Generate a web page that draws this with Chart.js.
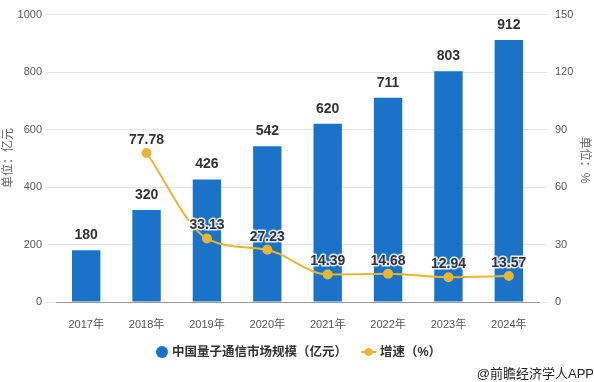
<!DOCTYPE html>
<html><head><meta charset="utf-8">
<script src="https://cdn.jsdelivr.net/npm/chart.js@4.4.0/dist/chart.umd.min.js"></script>
<style>html,body{margin:0;padding:0;background:#fff}#w{width:594px;height:382px}</style>
</head><body><div id="w"><canvas id="c" width="594" height="382"></canvas></div>
<script>
const categories = ['2017年','2018年','2019年','2020年','2021年','2022年','2023年','2024年'];
const marketSize = [180,320,426,542,620,711,803,912];
const growthRate = [null,77.78,33.13,27.23,14.39,14.68,12.94,13.57];
const leftTicks = [0,200,400,600,800,1000];
const rightTicks = [0,30,60,90,120,150];
const barName = '中国量子通信市场规模（亿元）';
const lineName = '增速（%）';
const leftTitle = '单位：亿元';
const rightTitle = '单位：%';
const credit = '@前瞻经济学人APP';

const BLUE = '#1a73c6', GOLD = '#e8b634';
const FONT = '"Liberation Sans", "Noto Sans CJK SC", sans-serif';

const overlay = {
  id: 'overlay',
  afterDatasetsDraw(chart) {
    const ctx = chart.ctx;
    ctx.save();
    ctx.textAlign = 'center';
    ctx.textBaseline = 'middle';
    ctx.lineJoin = 'round';
    ctx.font = 'bold 14px ' + FONT;
    chart.getDatasetMeta(0).data.forEach((el, i) => {
      ctx.fillStyle = '#333';
      ctx.fillText(String(marketSize[i]), el.x, el.y - 15);
    });
    chart.getDatasetMeta(1).data.forEach((el, i) => {
      if (growthRate[i] == null) return;
      ctx.lineWidth = 3; ctx.strokeStyle = 'rgba(255,255,255,0.85)';
      ctx.strokeText(growthRate[i].toFixed(2), el.x, el.y - 13);
      ctx.fillStyle = '#333';
      ctx.fillText(growthRate[i].toFixed(2), el.x, el.y - 13);
    });
    // axis titles
    ctx.font = '12px ' + FONT;
    ctx.fillStyle = '#666';
    ctx.save(); ctx.translate(9, 158); ctx.rotate(-Math.PI/2); ctx.fillText(leftTitle, 0, 0); ctx.restore();
    ctx.save(); ctx.translate(584, 160); ctx.rotate(Math.PI/2); ctx.fillText(rightTitle, 0, 0); ctx.restore();
    // legend
    ctx.textAlign = 'left';
    ctx.font = 'bold 12.5px ' + FONT;
    ctx.fillStyle = BLUE;
    ctx.beginPath(); ctx.arc(162, 352, 6, 0, Math.PI*2); ctx.fill();
    ctx.fillStyle = '#333';
    ctx.fillText(barName, 172, 353);
    ctx.strokeStyle = GOLD; ctx.lineWidth = 2;
    ctx.beginPath(); ctx.moveTo(361, 352); ctx.lineTo(376, 352); ctx.stroke();
    ctx.fillStyle = GOLD;
    ctx.beginPath(); ctx.arc(368.5, 352, 4, 0, Math.PI*2); ctx.fill();
    ctx.fillStyle = '#333';
    ctx.fillText(lineName, 380, 353);
    ctx.font = '13px ' + FONT;
    ctx.textAlign = 'right';
    ctx.fillStyle = '#222';
    ctx.fillText(credit, 594, 374);
    ctx.restore();
  }
};

new Chart(document.getElementById('c'), {
  data: {
    labels: categories,
    datasets: [
      { type: 'bar', label: barName, data: marketSize, backgroundColor: BLUE, yAxisID: 'y', order: 2,
        barPercentage: 0.47, categoryPercentage: 1.0 },
      { type: 'line', label: lineName, data: growthRate, yAxisID: 'y1', order: 1,
        borderColor: GOLD, borderWidth: 2, tension: 0.4, cubicInterpolationMode: 'monotone',
        pointRadius: 4, pointBackgroundColor: GOLD, pointBorderColor: GOLD, spanGaps: false }
    ]
  },
  options: {
    responsive: false, animation: false, devicePixelRatio: 1,
    layout: { padding: { top: 13, left: 0, right: 0, bottom: 0 } },
    plugins: { legend: { display: false }, tooltip: { enabled: false } },
    scales: {
      x: {
        grid: { display: false },
        border: { color: '#999' },
        ticks: { color: '#555', font: { size: 11, family: FONT }, padding: 8 },
        afterFit(s) { s.height = 80; }
      },
      y: {
        position: 'left', min: 0, max: 1000,
        afterBuildTicks(s) { s.ticks = leftTicks.map(v => ({ value: v })); },
        grid: { color: '#e3e3e3', tickLength: 10 },
        border: { display: false },
        ticks: { color: '#555', font: { size: 11, family: FONT }, padding: 4, callback: v => String(v) },
        afterFit(s) { s.width = 56; }
      },
      y1: {
        position: 'right', min: 0, max: 150,
        afterBuildTicks(s) { s.ticks = rightTicks.map(v => ({ value: v })); },
        grid: { drawOnChartArea: false, color: '#e3e3e3', tickLength: 8 },
        border: { display: false },
        ticks: { color: '#555', font: { size: 11, family: FONT }, padding: 8, callback: v => String(v) },
        afterFit(s) { s.width = 55; }
      }
    }
  },
  plugins: [overlay]
});
</script></body></html>
